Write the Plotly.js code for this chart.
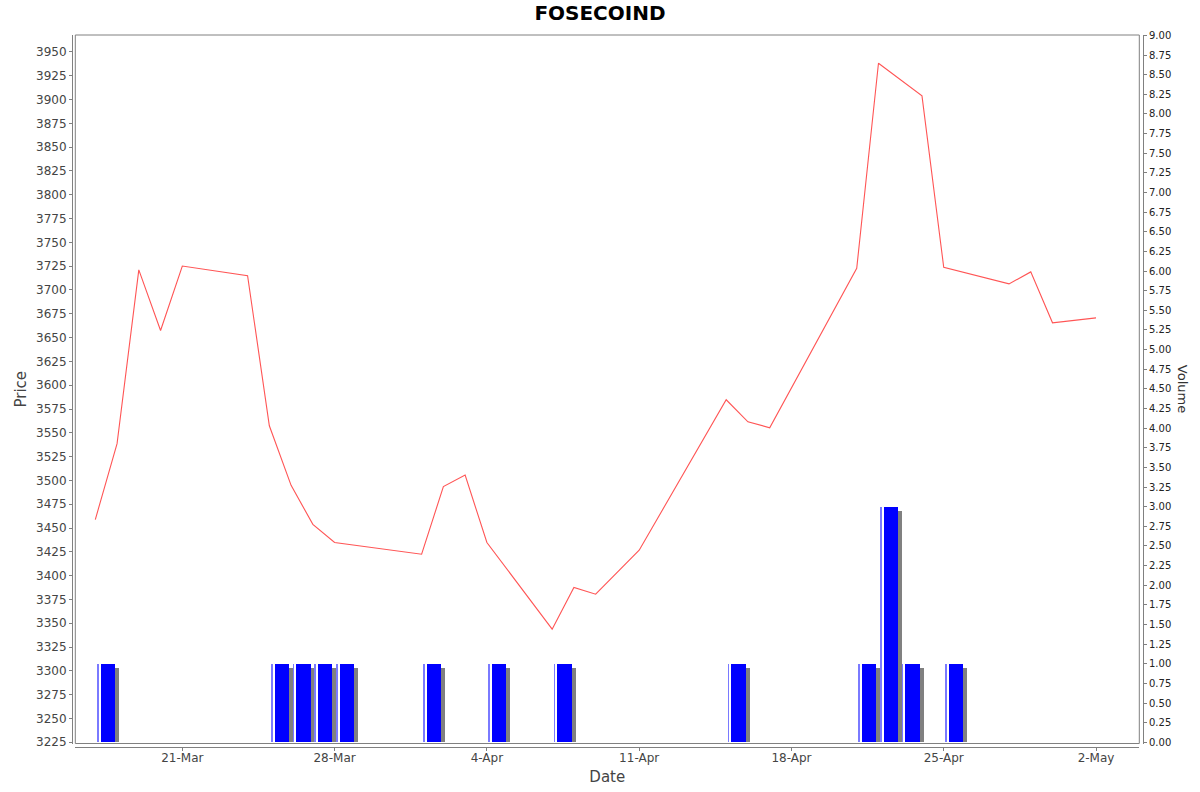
<!DOCTYPE html>
<html>
<head>
<meta charset="utf-8">
<script src="https://cdn.plot.ly/plotly-3.0.1.min.js"></script>
<style>
  html, body { margin: 0; padding: 0; background: #fff; }
  #chart { width: 1200px; height: 792px; }
</style>
</head>
<body>
<div id="chart"></div>
<script>
// price series (daily close)
const priceDates = [
    '2025-03-17', '2025-03-18', '2025-03-19', '2025-03-20', '2025-03-21',
    '2025-03-24', '2025-03-25', '2025-03-26', '2025-03-27', '2025-03-28',
    '2025-04-01', '2025-04-02', '2025-04-03', '2025-04-04',
    '2025-04-07', '2025-04-08', '2025-04-09', '2025-04-11',
    '2025-04-15', '2025-04-16', '2025-04-17',
    '2025-04-21', '2025-04-22', '2025-04-23', '2025-04-24', '2025-04-25',
    '2025-04-28', '2025-04-29', '2025-04-30', '2025-05-02'
];
const prices = [
    3458.9, 3538.6, 3721.1, 3657.4, 3725.2,
    3715.1, 3557.4, 3494.8, 3453.9, 3434.8,
    3422.5, 3493.5, 3505.6, 3434.8,
    3343.8, 3387.6, 3380.5, 3426.7,
    3584.7, 3561.6, 3555.3,
    3722.7, 3938.1, 3921.4, 3903.9, 3723.8,
    3706.4, 3719.0, 3665.5, 3670.7
];

// volume series
const volDates = [
    '2025-03-17', '2025-03-25', '2025-03-26', '2025-03-27', '2025-03-28',
    '2025-04-01', '2025-04-04', '2025-04-07', '2025-04-15',
    '2025-04-21', '2025-04-22', '2025-04-23', '2025-04-25'
];
const volumes = [1, 1, 1, 1, 1, 1, 1, 1, 1, 1, 3, 1, 1];

const DAY = 86400000;
const priceTicks = [];
for (let v = 3225; v <= 3950; v += 25) priceTicks.push(v);

const tickFont = { family: 'DejaVu Sans, sans-serif', size: 12, color: '#444444' };
const titleFont = { family: 'DejaVu Sans, sans-serif', size: 15, color: '#444444' };

// shadow behind each volume bar
const shadow = {
    x: volDates, y: volumes.map(v => v - 0.05), yaxis: 'y2', type: 'bar',
    offset: 0.42 * DAY, width: 0.66 * DAY,
    marker: { color: '#808080', line: { width: 0 } },
    hoverinfo: 'skip', showlegend: false
};
// light highlight strip on the left side of each bar
const strip = {
    x: volDates, y: volumes, yaxis: 'y2', type: 'bar',
    offset: 0.07 * DAY, width: 0.08 * DAY,
    marker: { color: '#7a7aff', line: { width: 0 } },
    hoverinfo: 'skip', showlegend: false
};
const bars = {
    x: volDates, y: volumes, yaxis: 'y2', type: 'bar',
    offset: 0.24 * DAY, width: 0.66 * DAY,
    marker: { color: '#0000ff', line: { width: 0 } },
    name: 'Volume', showlegend: false
};
const line = {
    x: priceDates, y: prices, type: 'scatter', mode: 'lines',
    line: { color: '#ff5555', width: 1.1 },
    name: 'Price', showlegend: false
};

const layout = {
    width: 1200, height: 792,
    margin: { l: 72, r: 57, t: 35, b: 45 },
    paper_bgcolor: '#ffffff', plot_bgcolor: '#ffffff',
    barmode: 'overlay', bargap: 0,
    title: {
        text: '<b>FOSECOIND</b>',
        font: { family: 'DejaVu Sans, sans-serif', size: 20, color: '#000' },
        x: 0.5, xref: 'container', y: 1 - 13 / 792, yref: 'container', yanchor: 'middle'
    },
    xaxis: {
        type: 'date',
        domain: [3.3 / 1071, 1067.3 / 1071],
        range: ['2025-03-16 01:56', '2025-05-03 23:45'],
        anchor: 'free', position: 0,
        tick0: '2025-03-21', dtick: 7 * DAY, tickformat: '%-d-%b',
        ticks: 'outside', ticklen: 3, tickcolor: '#808080',
        ticklabelstandoff: -3,
        showline: true, linecolor: '#808080', linewidth: 1,
        showgrid: false, zeroline: false,
        tickfont: tickFont,
        title: { text: 'Date', standoff: 7, font: titleFont }
    },
    yaxis: {
        domain: [3.5 / 712, 1],
        range: [3223.7, 3967.8],
        anchor: 'free', position: 0,
        tickmode: 'array', tickvals: priceTicks,
        ticks: 'outside', ticklen: 3, tickcolor: '#808080',
        showline: true, linecolor: '#808080', linewidth: 1,
        showgrid: false, zeroline: false,
        tickfont: tickFont,
        title: { text: 'Price', standoff: 4, font: titleFont }
    },
    yaxis2: {
        overlaying: 'y', side: 'right',
        range: [-0.015, 9.005],
        anchor: 'free', position: 1,
        tick0: 0, dtick: 0.25, tickformat: '.2f',
        ticks: 'outside', ticklen: 3, tickcolor: '#808080',
        showline: true, linecolor: '#808080', linewidth: 1,
        showgrid: false, zeroline: false,
        tickfont: { family: 'DejaVu Sans, sans-serif', size: 10, color: '#222' }
    },
    shapes: [
        { type: 'rect', xref: 'x domain', yref: 'y domain', x0: 0, x1: 1, y0: 0, y1: 1,
          line: { color: '#808080', width: 1 }, fillcolor: 'rgba(0,0,0,0)', layer: 'above' }
    ],
    annotations: [
        { text: 'Volume', xref: 'paper', yref: 'paper', x: 1 + 39 / 1071, y: 0.503,
          xanchor: 'center', yanchor: 'middle', textangle: 90, showarrow: false,
          font: { family: 'DejaVu Sans, sans-serif', size: 13, color: '#333' } }
    ]
};

Plotly.newPlot('chart', [shadow, strip, bars, line], layout, { displayModeBar: false, staticPlot: true });
</script>
</body>
</html>
